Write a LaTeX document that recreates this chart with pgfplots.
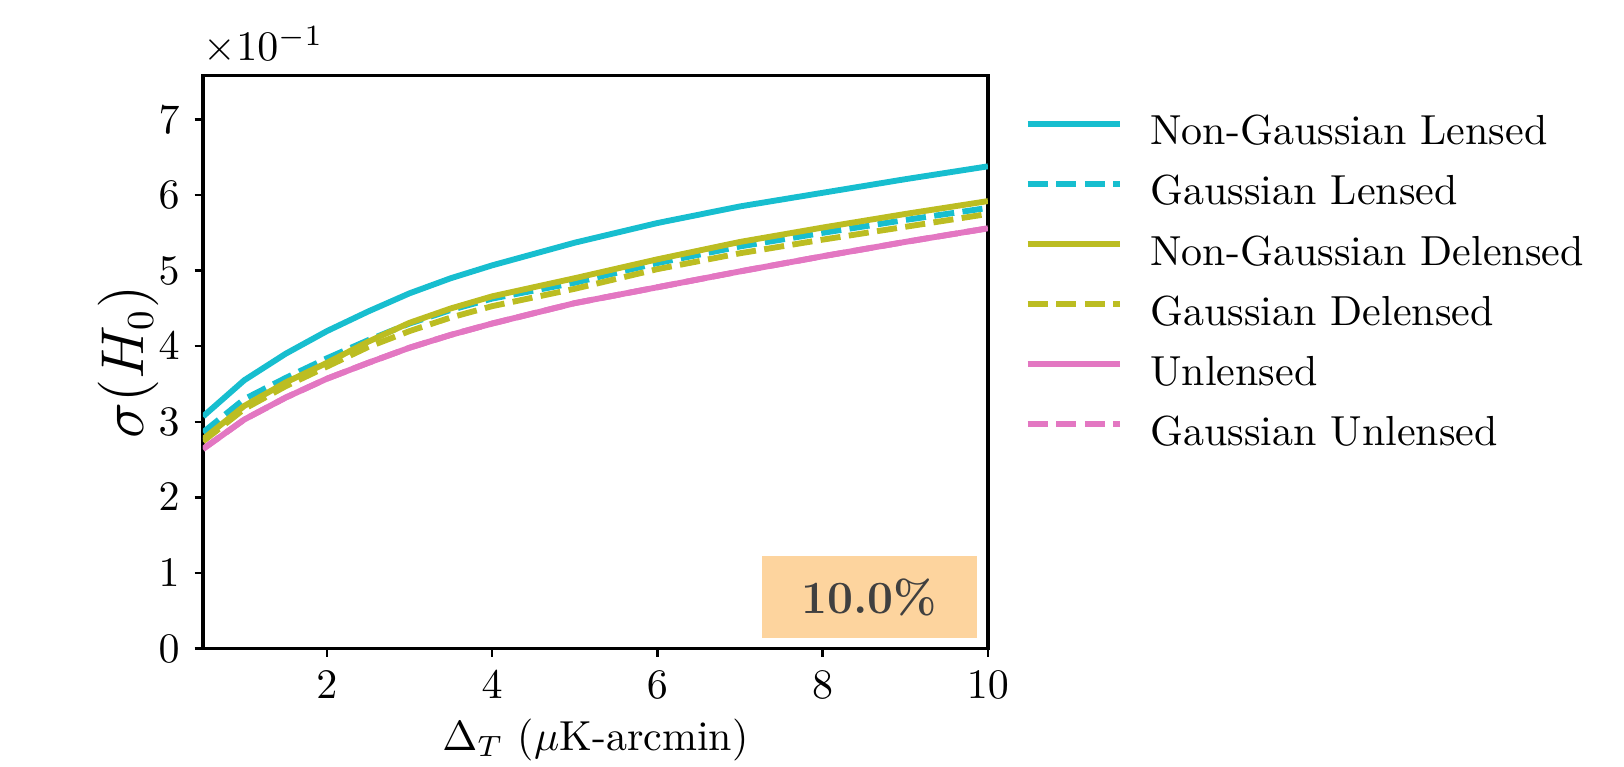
\documentclass[border=0pt]{standalone}
\usepackage{pgfplots}
\pgfplotsset{compat=1.18}

\definecolor{tabcyan}{HTML}{17BECF}
\definecolor{tabolive}{HTML}{BCBD22}
\definecolor{tabpink}{HTML}{E377C2}
\definecolor{boxpeach}{RGB}{253,212,158}
\definecolor{boxtext}{gray}{0.25}

% sigma(H0) against noise level
\pgfplotstableread{
x    ngl    gl     ngd    gd     ul
0.5  0.307  0.286  0.277  0.274  0.264
1.0  0.355  0.330  0.321  0.317  0.303
1.5  0.390  0.358  0.352  0.347  0.332
2.0  0.420  0.384  0.378  0.373  0.357
2.5  0.446  0.408  0.406  0.399  0.378
3.0  0.470  0.430  0.431  0.420  0.398
3.5  0.490  0.448  0.450  0.438  0.415
4.0  0.507  0.463  0.466  0.453  0.430
5.0  0.537  0.484  0.490  0.476  0.457
6.0  0.563  0.510  0.515  0.502  0.478
7.0  0.585  0.532  0.538  0.523  0.499
8.0  0.603  0.550  0.557  0.541  0.519
9.0  0.621  0.567  0.575  0.558  0.538
10.0 0.638  0.583  0.592  0.575  0.556
}\sigdata

\begin{document}
\begin{tikzpicture}
\begin{axis}[
    at={(0,0)}, anchor=south west,
    width=186.9pt, height=136.4pt,
    scale only axis,
    xmin=0.5, xmax=10,
    ymin=0, ymax=0.758,
    xtick={2,4,6,8,10},
    ytick={0,0.1,0.2,0.3,0.4,0.5,0.6,0.7},
    scaled y ticks=base 10:1,
    tick scale binop=\times,
    every y tick scale label/.style={at={(rel axis cs:0,1)}, anchor=south west, inner sep=0pt, yshift=2.5pt},
    tick align=outside,
    major tick length=2pt,
    tick style={black, line width=0.6pt},
    xtick pos=bottom, ytick pos=left,
    axis line style={line width=0.8pt},
    xlabel={$\Delta_T$ ($\mu$K-arcmin)},
    ylabel={$\sigma(H_0)$},
    xlabel style={at={([yshift=-21.8pt]rel axis cs:0.5,0)}, anchor=center},
    ylabel style={at={([xshift=-17.7pt]rel axis cs:0,0.5)}, anchor=center, font=\fontsize{13.5}{16}\selectfont},
    legend cell align=left,
    legend style={at={(1.0459,0.9355)}, anchor=north west, yshift=-0.5pt, draw=none, fill=none,
        inner sep=0pt, column sep=6.5pt, row sep=5.3pt,
        nodes={inner sep=0pt, text height=7pt, text depth=2pt}},
    legend image code/.code={\draw[#1] (0pt,2.5pt) -- (22pt,2.5pt);},
    every axis plot/.append style={line width=1.4pt},
]
\addplot[tabcyan, no marks] table[x=x, y=ngl] {\sigdata};
\addlegendentry{Non-Gaussian Lensed}
\addplot[tabcyan, no marks, dash pattern=on 4.8pt off 2pt] table[x=x, y=gl] {\sigdata};
\addlegendentry{Gaussian Lensed}
\addplot[tabolive, no marks] table[x=x, y=ngd] {\sigdata};
\addlegendentry{Non-Gaussian Delensed}
\addplot[tabolive, no marks, dash pattern=on 4.8pt off 2pt] table[x=x, y=gd] {\sigdata};
\addlegendentry{Gaussian Delensed}
\addplot[tabpink, no marks] table[x=x, y=ul] {\sigdata};
\addlegendentry{Unlensed}
\addplot[tabpink, no marks, dash pattern=on 4.8pt off 2pt] table[x=x, y=ul] {\sigdata};
\addlegendentry{Gaussian Unlensed}

\node[fill=boxpeach, text=boxtext, font=\fontsize{11}{13}\selectfont\bfseries,
      minimum width=51.2pt, minimum height=19.5pt, inner sep=0pt,
      anchor=south east] at ([xshift=-2.45pt, yshift=2.26pt]rel axis cs:1,0) {10.0\%};
\end{axis}
\pgfresetboundingbox
\path (0,0) ++(-48.33pt,-28.21pt) rectangle ++(386.67pt,182.62pt);
\end{tikzpicture}
\end{document}
